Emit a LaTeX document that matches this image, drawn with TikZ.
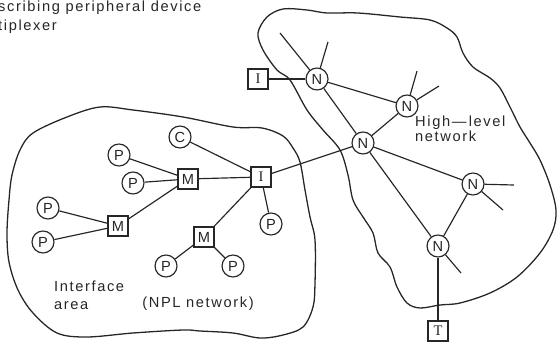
\documentclass[tikz,border=0pt]{standalone}
\usepackage{fontspec}
\setmainfont{Liberation Sans}[LetterSpace=11]
\newfontfamily\fuenteSerif{Liberation Serif}
\usetikzlibrary{positioning}
\colorlet{colTinta}{black!85}
\tikzset{
  nodoBase/.style={
    draw=colTinta, line width=1pt, inner sep=0pt, fill=white,
    font=\fontsize{12.5}{13}\selectfont, text=colTinta
  },
  nodoCirculo/.style={nodoBase, circle, minimum size=0.66cm},
  nodoCaja/.style={nodoBase, rectangle, minimum size=0.6cm},
  enlace/.style={draw=colTinta, line width=1pt},
  nube/.style={draw=colTinta, line width=1.1pt},
  etiquetaTexto/.style={font=\fontsize{12.5}{12.5}\selectfont, text=colTinta,
    align=left, inner sep=0pt},
}

\begin{document}
\begin{tikzpicture}[x=0.03cm, y=-0.03cm]
  \useasboundingbox (0,0) rectangle (557,342);

  % texto cortado arriba
  \node[etiquetaTexto, anchor=west] (arriba1) at (-2,8) {scribing peripheral device};
  \node[etiquetaTexto, anchor=west] (arriba2) at (-2,27) {tiplexer};

  % nubes
  \draw[nube] plot[smooth cycle, tension=0.55] coordinates {
    (20,150) (33,133) (67,117) (100,107) (133,110) (183,117) (233,127)
    (262,128) (283,136) (293,148) (300,162) (305,190) (310,217) (315,240)
    (315,283) (313,307) (303,327) (283,335) (260,338) (233,333) (200,331)
    (183,330) (133,333) (87,337) (57,333) (33,313) (18,290) (9,262)
    (7,233) (9,200) (12,175)};
  \draw[nube] plot[smooth cycle, tension=0.55] coordinates {
    (258,33) (267,17) (283,9) (307,10) (327,13) (358,13) (400,17) (430,20)
    (447,28) (457,37) (463,53) (473,67) (490,78) (500,88) (510,107)
    (520,127) (530,143) (540,160) (550,185) (556,210) (553,230) (540,253)
    (517,277) (490,293) (460,303) (440,305) (420,308) (407,303) (397,287)
    (390,267) (378,253) (373,233) (363,217) (353,200) (348,175) (340,150)
    (323,130) (307,110) (290,80) (277,70) (263,50)};

  % red de alto nivel
  \node[nodoCirculo] (n1) at (317,79) {N};
  \node[nodoCirculo] (n2) at (407,106) {N};
  \node[nodoCirculo] (n3) at (363,143) {N};
  \node[nodoCirculo] (n4) at (473,184) {N};
  \node[nodoCirculo] (n5) at (438,246) {N};
  \node[nodoCaja] (iAlto) at (258,79) {\fuenteSerif I};
  \node[nodoCaja] (t) at (438,331) {\fuenteSerif T};
  \node[etiquetaTexto, anchor=north west] (alto) at (415,116)
    {High—\,level\\network};

  \coordinate (n1a) at (280,33);
  \coordinate (n1b) at (328,42);
  \coordinate (n2a) at (417,71);
  \coordinate (n2b) at (439,86);
  \coordinate (n4a) at (514,185);
  \coordinate (n4b) at (503,210);
  \coordinate (n5a) at (461,273);

  % area de interfaz
  \node[nodoCirculo] (c) at (180,137) {C};
  \node[nodoCirculo] (p1) at (119,155) {P};
  \node[nodoCirculo] (p2) at (133,183) {P};
  \node[nodoCaja] (m1) at (188,179) {M};
  \node[nodoCaja] (iMed) at (261,177) {\fuenteSerif I};
  \node[nodoCirculo] (p3) at (48,208) {P};
  \node[nodoCirculo] (p4) at (43,242) {P};
  \node[nodoCaja] (m2) at (118,226) {M};
  \node[nodoCaja] (m3) at (204,237) {M};
  \node[nodoCirculo] (p5) at (271,224) {P};
  \node[nodoCirculo] (p6) at (166,266) {P};
  \node[nodoCirculo] (p7) at (233,266) {P};
  \node[etiquetaTexto, anchor=west] (interfaz) at (54,295) {Interface\\[3pt]area};
  \node[etiquetaTexto] (npl) at (198,304) {(NPL network)};

  \draw[enlace] (iAlto) -- (n1);
  \draw[enlace] (n1) -- (n1a);
  \draw[enlace] (n1) -- (n1b);
  \draw[enlace] (n1) -- (n2);
  \draw[enlace] (n1) -- (n3);
  \draw[enlace] (n2) -- (n2a);
  \draw[enlace] (n2) -- (n2b);
  \draw[enlace] (n2) -- (n3);
  \draw[enlace] (n3) -- (iMed);
  \draw[enlace] (n3) -- (n4);
  \draw[enlace] (n3) -- (n5);
  \draw[enlace] (n4) -- (n4a);
  \draw[enlace] (n4) -- (n4b);
  \draw[enlace] (n4) -- (n5);
  \draw[enlace] (n5) -- (n5a);
  \draw[enlace] (n5) -- (t);

  \draw[enlace] (c) -- (iMed);
  \draw[enlace] (p1) -- (m1);
  \draw[enlace] (p2) -- (m1);
  \draw[enlace] (m1) -- (iMed);
  \draw[enlace] (m2) -- (m1);
  \draw[enlace] (p3) -- (m2);
  \draw[enlace] (p4) -- (m2);
  \draw[enlace] (iMed) -- (m3);
  \draw[enlace] (iMed) -- (p5);
  \draw[enlace] (m3) -- (p6);
  \draw[enlace] (m3) -- (p7);
\end{tikzpicture}
\end{document}
